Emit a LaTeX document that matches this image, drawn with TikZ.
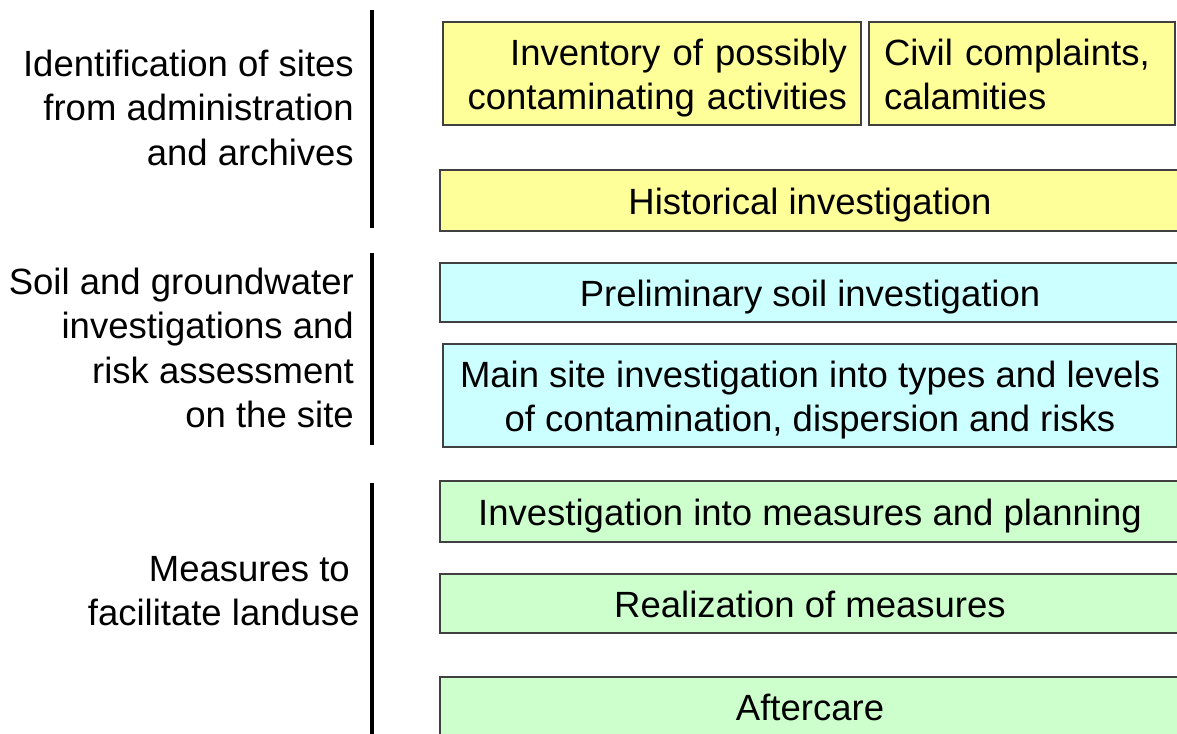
\documentclass[tikz,border=0pt]{standalone}
\usepackage{fontspec}
\setmainfont{Liberation Sans}
\definecolor{yel}{HTML}{FFFF99}
\definecolor{cya}{HTML}{CCFFFF}
\definecolor{grn}{HTML}{CCFFCC}
\definecolor{edge}{HTML}{404040}
\begin{document}
\begin{tikzpicture}[x=1pt,y=-1pt,
  box/.style={draw=edge, line width=1.3pt, inner sep=0pt, align=center,
    font=\fontsize{36.5}{44}\selectfont},
  lbl/.style={align=right, anchor=east, inner sep=0pt,
    font=\fontsize{36.5}{44.5}\selectfont},
  bar/.style={line width=4pt}]
\useasboundingbox (0,0) rectangle (1177,733);
\fill[white] (0,0) rectangle (1177,733);
\begin{scope}
\clip (0,0) rectangle (1177,733);
% left labels
\node[lbl] (l1) at (354,107.5) {Identification of sites\\from administration\\and archives};
\node[lbl] (l2) at (354,348) {Soil and groundwater\\investigations and\\risk assessment\\on the site};
\node[lbl] (l3) at (360,591) {Measures to\kern10pt\\facilitate landuse};
% bars
\draw[bar] (372,10) -- (372,228);
\draw[bar] (372,253) -- (372,445);
\draw[bar] (372,483) -- (372,740);
% boxes
\node[box, fill=yel, minimum width=418, minimum height=103, text width=390, align=right] (inv) at (652,73.5) {};
\node[box, fill=yel, minimum width=306, minimum height=103, text width=276, align=left] (civ) at (1022,73.5) {};
\node[box, fill=yel, minimum width=740, minimum height=61] (his) at (810,200.5) {};
\node[box, fill=cya, minimum width=740, minimum height=59] (pre) at (810,292.5) {};
\node[box, fill=cya, minimum width=734, minimum height=103] (main) at (810,395.5) {};
\node[box, fill=grn, minimum width=740, minimum height=61] (plan) at (810,511.5) {};
\node[box, fill=grn, minimum width=740, minimum height=59] (real) at (810,603.5) {};
\node[box, fill=grn, minimum width=740, minimum height=60] (after) at (810,707) {};
% box texts
\node[box, draw=none, text width=390, align=right, yshift=-5pt] (invt) at (inv) {Inventory of possibly\\contaminating activities};
\node[box, draw=none, text width=276, align=left, yshift=-1pt] (civt) at (civ) {Civil complaints,\\calamities};
\node[box, draw=none, yshift=-5pt] (hist) at (his) {Historical investigation};
\node[box, draw=none, yshift=-5pt] (pret) at (pre) {Preliminary soil investigation};
\node[box, draw=none, yshift=-5pt] (maint) at (main) {Main site investigation into types and levels\\of contamination, dispersion and risks};
\node[box, draw=none, yshift=-5pt] (plant) at (plan) {Investigation into measures and planning};
\node[box, draw=none, yshift=-1pt] (realt) at (real) {Realization of measures};
\node[box, draw=none] (aftert) at (after) {Aftercare};
\end{scope}
\end{tikzpicture}
\end{document}
